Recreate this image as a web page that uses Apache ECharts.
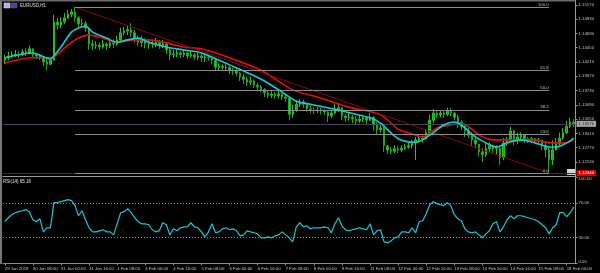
<!DOCTYPE html>
<html><head><meta charset="utf-8">
<script src="https://cdn.jsdelivr.net/npm/echarts@6/dist/echarts.min.js"></script>
<style>html,body{margin:0;padding:0;background:#000;}#c{width:600px;height:273px;}</style>
</head><body><div id="c"></div>
<script>
const symbolTitle = 'EURUSD,H1';
const rsiTitle = 'RSI(14)';
const timeLabels = ['29 Jan 2019','30 Jan 08:00','31 Jan 00:00','31 Jan 16:00','1 Feb 08:00','4 Feb 00:00','4 Feb 16:00','5 Feb 08:00','6 Feb 00:00','6 Feb 16:00','7 Feb 08:00','8 Feb 00:00','8 Feb 16:00','11 Feb 08:00','12 Feb 00:00','12 Feb 16:00','13 Feb 08:00','14 Feb 00:00','14 Feb 16:00','15 Feb 08:00','18 Feb 00:00'];
const barsPerLabel = 8;
const priceTicks = [1.12530,1.12770,1.13010,1.13250,1.13490,1.13730,1.13970,1.14210,1.14450,1.14690,1.14930,1.15170];
const rsiTicks = [0,30,70,100];
const rsiLevels = [70,30];
// [open, close, low, high]
const candles = [
[1.1424,1.1428,1.1417,1.1433],[1.1428,1.1431,1.1424,1.1438],[1.1431,1.1433,1.1428,1.1439],[1.1433,1.1434,1.1429,1.1441],[1.1434,1.1433,1.1428,1.1439],
[1.1433,1.1438,1.1431,1.1443],[1.1438,1.1436,1.1431,1.1444],[1.1436,1.1443,1.1434,1.1449],[1.1443,1.1433,1.1428,1.1444],[1.1433,1.1431,1.1426,1.1436],
[1.1431,1.1429,1.1424,1.1434],[1.1429,1.1421,1.1414,1.1431],[1.1421,1.1417,1.1407,1.1428],[1.1417,1.1424,1.1416,1.1429],[1.1424,1.1488,1.1423,1.1500],
[1.1488,1.1483,1.1475,1.1495],[1.1483,1.1488,1.1478,1.1496],[1.1488,1.1495,1.1485,1.1503],[1.1495,1.1501,1.1493,1.1508],[1.1501,1.1505,1.1496,1.1510],
[1.1505,1.1495,1.1488,1.1513],[1.1495,1.1485,1.1478,1.1498],[1.1485,1.1486,1.1480,1.1493],[1.1486,1.1478,1.1471,1.1490],[1.1478,1.1451,1.1441,1.1480],
[1.1451,1.1448,1.1441,1.1458],[1.1448,1.1449,1.1443,1.1456],[1.1449,1.1446,1.1441,1.1454],[1.1446,1.1451,1.1443,1.1458],[1.1451,1.1448,1.1441,1.1454],
[1.1448,1.1453,1.1444,1.1459],[1.1453,1.1451,1.1444,1.1459],[1.1451,1.1458,1.1448,1.1465],[1.1458,1.1470,1.1456,1.1478],[1.1470,1.1473,1.1465,1.1480],
[1.1473,1.1475,1.1466,1.1483],[1.1475,1.1470,1.1463,1.1486],[1.1470,1.1461,1.1454,1.1475],[1.1461,1.1454,1.1448,1.1466],[1.1454,1.1458,1.1446,1.1465],
[1.1458,1.1451,1.1444,1.1461],[1.1451,1.1453,1.1443,1.1459],[1.1453,1.1451,1.1444,1.1458],[1.1451,1.1454,1.1446,1.1461],[1.1454,1.1449,1.1443,1.1458],
[1.1449,1.1451,1.1444,1.1458],[1.1451,1.1441,1.1434,1.1453],[1.1441,1.1433,1.1424,1.1444],[1.1433,1.1434,1.1428,1.1441],[1.1434,1.1436,1.1429,1.1441],
[1.1436,1.1433,1.1428,1.1439],[1.1433,1.1436,1.1429,1.1441],[1.1436,1.1431,1.1426,1.1438],[1.1431,1.1433,1.1428,1.1439],[1.1433,1.1429,1.1424,1.1436],
[1.1429,1.1431,1.1424,1.1436],[1.1431,1.1428,1.1421,1.1434],[1.1428,1.1429,1.1421,1.1434],[1.1429,1.1428,1.1423,1.1433],[1.1428,1.1424,1.1417,1.1431],
[1.1424,1.1412,1.1406,1.1426],[1.1412,1.1414,1.1407,1.1419],[1.1414,1.1411,1.1406,1.1417],[1.1411,1.1412,1.1406,1.1417],[1.1412,1.1407,1.1401,1.1414],
[1.1407,1.1406,1.1399,1.1411],[1.1406,1.1402,1.1397,1.1409],[1.1402,1.1396,1.1389,1.1404],[1.1396,1.1392,1.1384,1.1401],[1.1392,1.1387,1.1381,1.1396],
[1.1387,1.1389,1.1382,1.1396],[1.1389,1.1382,1.1377,1.1391],[1.1382,1.1379,1.1374,1.1386],[1.1379,1.1375,1.1370,1.1382],[1.1375,1.1369,1.1362,1.1377],
[1.1369,1.1365,1.1360,1.1372],[1.1365,1.1367,1.1360,1.1372],[1.1367,1.1364,1.1359,1.1370],[1.1364,1.1367,1.1360,1.1372],[1.1367,1.1362,1.1357,1.1369],
[1.1362,1.1360,1.1354,1.1367],[1.1360,1.1333,1.1323,1.1362],[1.1333,1.1340,1.1327,1.1349],[1.1340,1.1350,1.1337,1.1357],[1.1350,1.1354,1.1345,1.1359],
[1.1354,1.1350,1.1344,1.1357],[1.1350,1.1342,1.1337,1.1352],[1.1342,1.1340,1.1335,1.1347],[1.1340,1.1339,1.1333,1.1344],[1.1339,1.1340,1.1335,1.1345],
[1.1340,1.1339,1.1333,1.1344],[1.1339,1.1337,1.1332,1.1342],[1.1337,1.1330,1.1320,1.1340],[1.1330,1.1335,1.1327,1.1340],[1.1335,1.1340,1.1333,1.1350],
[1.1340,1.1344,1.1337,1.1352],[1.1344,1.1330,1.1323,1.1345],[1.1330,1.1327,1.1320,1.1333],[1.1327,1.1328,1.1322,1.1335],[1.1328,1.1325,1.1318,1.1332],
[1.1325,1.1322,1.1315,1.1330],[1.1322,1.1325,1.1318,1.1332],[1.1325,1.1327,1.1320,1.1332],[1.1327,1.1323,1.1317,1.1330],[1.1323,1.1328,1.1322,1.1335],
[1.1328,1.1315,1.1305,1.1330],[1.1315,1.1307,1.1300,1.1320],[1.1307,1.1310,1.1302,1.1317],[1.1310,1.1280,1.1270,1.1313],[1.1280,1.1273,1.1266,1.1281],
[1.1273,1.1271,1.1266,1.1278],[1.1271,1.1275,1.1268,1.1281],[1.1275,1.1273,1.1268,1.1280],[1.1273,1.1276,1.1270,1.1281],[1.1276,1.1278,1.1273,1.1283],
[1.1278,1.1280,1.1275,1.1285],[1.1280,1.1285,1.1276,1.1290],[1.1285,1.1290,1.1256,1.1295],[1.1290,1.1293,1.1286,1.1300],[1.1293,1.1292,1.1285,1.1298],
[1.1292,1.1302,1.1290,1.1307],[1.1302,1.1323,1.1300,1.1332],[1.1323,1.1335,1.1318,1.1342],[1.1335,1.1332,1.1327,1.1340],[1.1332,1.1335,1.1328,1.1340],
[1.1335,1.1333,1.1327,1.1340],[1.1333,1.1339,1.1330,1.1344],[1.1339,1.1335,1.1330,1.1344],[1.1335,1.1328,1.1323,1.1337],[1.1328,1.1320,1.1310,1.1332],
[1.1320,1.1312,1.1307,1.1323],[1.1312,1.1305,1.1295,1.1317],[1.1305,1.1298,1.1293,1.1310],[1.1298,1.1290,1.1280,1.1302],[1.1290,1.1283,1.1276,1.1293],
[1.1283,1.1270,1.1263,1.1283],[1.1270,1.1265,1.1253,1.1276],[1.1265,1.1275,1.1261,1.1285],[1.1275,1.1280,1.1270,1.1286],[1.1280,1.1275,1.1268,1.1281],
[1.1275,1.1276,1.1265,1.1281],[1.1276,1.1260,1.1248,1.1280],[1.1260,1.1285,1.1256,1.1293],[1.1285,1.1288,1.1280,1.1295],[1.1288,1.1305,1.1286,1.1312],
[1.1305,1.1290,1.1281,1.1307],[1.1290,1.1295,1.1283,1.1302],[1.1295,1.1298,1.1288,1.1303],[1.1298,1.1292,1.1285,1.1300],[1.1292,1.1290,1.1285,1.1295],
[1.1290,1.1292,1.1286,1.1295],[1.1292,1.1288,1.1285,1.1293],[1.1288,1.1290,1.1285,1.1293],[1.1290,1.1281,1.1273,1.1290],[1.1281,1.1273,1.1261,1.1285],
[1.1273,1.1256,1.1234,1.1278],[1.1256,1.1273,1.1248,1.1290],[1.1273,1.1283,1.1273,1.1293],[1.1283,1.1293,1.1280,1.1302],[1.1293,1.1302,1.1290,1.1310],
[1.1302,1.1313,1.1300,1.1322],[1.1313,1.1320,1.1310,1.1327],[1.1320,1.1317,1.1312,1.1325]
];
// [bar index, value]
const maFast = [[0,1.1428],[8,1.1436],[13,1.1426],[14,1.1431],[16,1.1446],[19,1.1471],[21,1.1478],[23,1.1481],[25,1.1471],[29,1.1461],[32,1.1454],[35,1.1458],[38,1.1461],[41,1.1454],[46,1.1446],[51,1.1441],[56,1.1436],[64,1.1416],[73,1.1392],[78,1.1374],[83,1.1355],[87,1.1350],[95,1.1340],[104,1.1327],[107,1.1318],[112,1.1292],[117,1.1286],[121,1.1298],[125,1.1315],[128,1.1320],[130,1.1315],[134,1.1295],[137,1.1285],[140,1.1278],[143,1.1285],[147,1.1290],[151,1.1285],[155,1.1278],[157,1.1278],[160,1.1285],[162,1.1293]];
const maSlow = [[0,1.1419],[8,1.1428],[13,1.1428],[14,1.1429],[18,1.1449],[21,1.1461],[24,1.1466],[27,1.1463],[32,1.1454],[37,1.1458],[41,1.1458],[46,1.1453],[51,1.1446],[56,1.1443],[64,1.1428],[73,1.1407],[82,1.1374],[89,1.1362],[98,1.1345],[107,1.1332],[112,1.1308],[115,1.1302],[119,1.1295],[123,1.1310],[127,1.1315],[130,1.1318],[132,1.1312],[136,1.1295],[139,1.1290],[143,1.1290],[150,1.1290],[156,1.1285],[160,1.1285],[162,1.1290]];
const rsi = [
48.3,52.9,56.4,58.7,59.9,61.0,62.2,59.9,50.6,48.3,
51.7,36.6,41.3,41.3,70.3,70.3,71.5,72.7,73.8,72.7,
66.9,55.2,61.0,50.6,41.3,36.6,36.6,37.8,39.0,36.6,
36.6,33.1,45.9,58.7,59.9,63.4,58.7,52.9,48.3,45.9,
45.9,44.8,39.0,36.6,37.8,47.1,44.8,33.1,40.1,37.8,
41.3,42.4,42.4,47.1,42.4,41.3,36.6,30.8,36.6,45.9,
35.5,36.6,40.1,41.3,39.0,40.1,37.8,32.0,33.1,37.8,
36.6,35.5,34.3,29.7,29.7,30.8,29.7,32.0,33.1,36.6,
33.1,29.7,25.0,42.4,47.1,42.4,43.6,40.1,41.3,41.3,
41.3,42.4,41.3,35.5,45.9,52.9,43.6,39.0,37.8,39.0,
40.1,41.3,40.1,39.0,45.9,33.1,37.8,39.0,25.0,23.8,
26.2,29.7,30.8,36.6,36.6,35.5,41.3,35.5,48.3,49.4,
57.6,68.0,71.5,69.2,68.0,66.9,70.3,66.9,56.4,51.7,
49.4,40.1,36.6,35.5,36.6,33.1,29.7,34.3,37.8,45.9,
48.3,36.6,42.4,50.6,55.2,51.7,55.2,55.2,54.1,52.9,
51.7,50.6,48.3,44.8,41.3,34.3,41.3,44.8,58.7,58.7,
54.1,58.7,65.16];
const fibLevels = [0,23.6,38.2,50,61.8,100];
const fibHigh = {bar:20, price:1.1513};
const fibLow = {bar:155, price:1.1234};
const hLinePrice = 1.1234;

const categories = candles.map((_, i) => String(i));
const lastClose = candles[candles.length-1][1];
const FONT = 'Liberation Sans';
const TXT = '#c4c4c4';
const small = 4.3;

const fibRange = fibHigh.price - fibLow.price;
const fibMarks = fibLevels.map(l => {
  const p = fibLow.price + fibRange * l / 100;
  const lab = {show:true, position:'insideEndTop', distance:0.5, formatter:l.toFixed(1), color:TXT, fontSize:small, fontFamily:FONT};
  const ls = {color:'#8c8c8c', width:1, type:'solid'};
  return [{coord:[String(fibHigh.bar), p], lineStyle:ls, label:lab}, {coord:[String(fibLow.bar), p], lineStyle:ls, label:lab}];
});
const trendStyle = {color:'#8a0a0a', width:1, type:'solid'};

const chart = echarts.init(document.getElementById('c'), null, {renderer:'canvas'});
chart.setOption({
  backgroundColor:'#000',
  animation:false,
  grid:[
    {left:3, top:1, width:572.5, height:175},
    {left:3, top:177, width:572.5, height:86.5}
  ],
  xAxis:[
    {type:'category', gridIndex:0, data:categories, boundaryGap:true,
     axisLine:{show:true, lineStyle:{color:'#9a9a9a', width:1}}, axisTick:{show:false}, axisLabel:{show:false}, splitLine:{show:false}},
    {type:'category', gridIndex:1, data:categories, boundaryGap:true,
     axisLine:{show:true, lineStyle:{color:'#8a8a8a', width:1}},
     axisTick:{show:true, interval:barsPerLabel-1, alignWithLabel:true, length:2, lineStyle:{color:'#8a8a8a'}},
     axisLabel:{show:true, interval:barsPerLabel-1, align:'left', margin:3, color:TXT, fontSize:small, fontFamily:FONT,
       formatter:(v, idx) => timeLabels[Math.round(idx / barsPerLabel)] || ''},
     splitLine:{show:false}}
  ],
  yAxis:[
    {type:'value', gridIndex:0, position:'right', min:1.122932, max:1.152332,
     axisLine:{show:true, lineStyle:{color:'#9a9a9a'}},
     axisTick:{show:true, customValues:priceTicks, length:2, lineStyle:{color:'#9a9a9a'}},
     axisLabel:{show:true, customValues:priceTicks, formatter:v => v.toFixed(5), margin:3, color:TXT, fontSize:small, fontFamily:FONT},
     splitLine:{show:false}},
    {type:'value', gridIndex:1, position:'right', min:0, max:100,
     axisLine:{show:true, lineStyle:{color:'#9a9a9a'}},
     axisTick:{show:true, customValues:rsiTicks, length:2, lineStyle:{color:'#9a9a9a'}},
     axisLabel:{show:true, customValues:rsiTicks, formatter:v => v.toFixed(2), margin:3, color:TXT, fontSize:small, fontFamily:FONT,
       verticalAlignMaxLabel:'top', verticalAlignMinLabel:'bottom'},
     splitLine:{show:false}}
  ],
  series:[
    {type:'candlestick', xAxisIndex:0, yAxisIndex:0, data:candles, barWidth:2, z:2,
     itemStyle:{color:'#1aa81a', color0:'#2fc82f', borderColor:'#28c028', borderColor0:'#1ea81e', borderWidth:1}},
    {type:'line', xAxisIndex:0, yAxisIndex:0, data:maSlow, smooth:0.3, symbol:'none', z:4,
     lineStyle:{color:'#e01010', width:1.6},
     markLine:{symbol:['none','none'], silent:true, animation:false, precision:5,
       data:[
         {yAxis:hLinePrice, lineStyle:{color:'#8a0a0a', width:1, type:'solid'},
          label:{show:true, position:'end', distance:1, formatter:hLinePrice.toFixed(5), backgroundColor:'#e00000', color:'#fff', fontSize:small, fontFamily:FONT, padding:[1,2,1,2]}},
         {yAxis:lastClose, lineStyle:{color:'#3d4656', width:1, type:'solid'},
          label:{show:true, position:'end', distance:1, formatter:lastClose.toFixed(5), backgroundColor:'#a9a9a9', color:'#111', fontSize:small, fontFamily:FONT, padding:[1,2,1,2]}}
       ]}},
    {type:'line', xAxisIndex:0, yAxisIndex:0, data:maFast, smooth:0.3, symbol:'none', z:5,
     lineStyle:{color:'#1cc8d4', width:1.6},
     markLine:{symbol:['none','none'], silent:true, animation:false, precision:5,
       data:[
         [{coord:[String(fibHigh.bar), fibHigh.price], lineStyle:trendStyle, label:{show:false}}, {coord:[String(fibLow.bar), fibLow.price], lineStyle:trendStyle, label:{show:false}}],
         ...fibMarks
       ]}},
    {type:'line', xAxisIndex:1, yAxisIndex:1, data:rsi, symbol:'none', z:5,
     lineStyle:{color:'#1cc8d4', width:1.2},
     markLine:{symbol:['none','none'], silent:true, label:{show:false},
       data:rsiLevels.map(v => ({yAxis:v})), lineStyle:{color:'#8a8a8a', type:[1,2], width:1}}}
  ],
  graphic:[
    {type:'rect', shape:{x:0, y:0, width:2, height:264}, style:{fill:'#767676'}, silent:true},
    {type:'rect', shape:{x:0, y:0, width:576, height:1.5}, style:{fill:'#6a6a6a'}, silent:true},
    {type:'rect', shape:{x:4, y:3, width:6, height:5}, style:{fill:'#a8aef0', stroke:'#e8e8ff', lineWidth:0.5}, silent:true},
    {type:'rect', shape:{x:11, y:3, width:6, height:5}, style:{fill:'#3848c0', stroke:'#d03030', lineWidth:0.5}, silent:true},
    {type:'text', x:20, y:3.2, style:{text:symbolTitle, fill:'#e0e0e0', fontSize:4.5, fontFamily:FONT}, silent:true},
    {type:'text', x:3, y:179, style:{text:rsiTitle + ' ' + rsi[rsi.length-1].toFixed(2), fill:'#e0e0e0', fontSize:4.5, fontFamily:FONT}, silent:true},
    {type:'rect', shape:{x:567, y:169, width:8, height:6}, style:{fill:'#d4d4d4'}, silent:true}
  ]
});
</script></body></html>
